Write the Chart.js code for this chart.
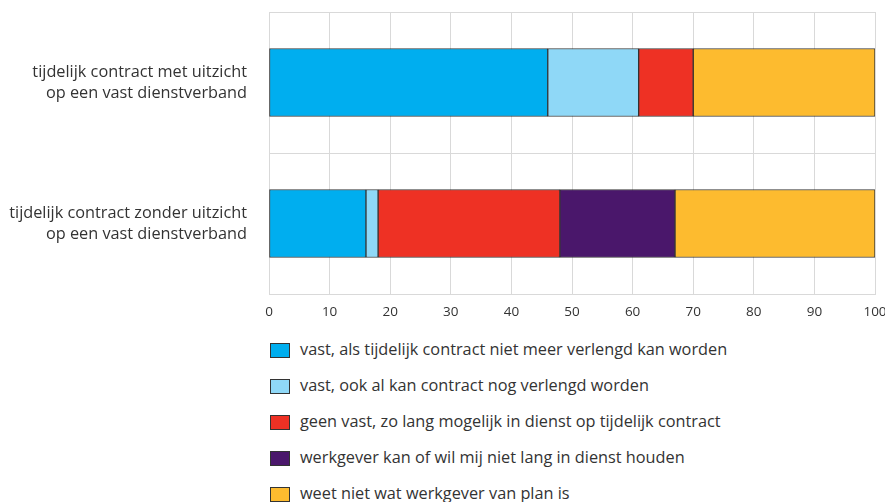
<!DOCTYPE html>
<html>
<head>
<meta charset="utf-8">
<script src="https://cdn.jsdelivr.net/npm/chart.js@4.4.0/dist/chart.umd.min.js"></script>
<style>
  html, body { margin:0; padding:0; background:#fff; }
  body { width:885px; height:502px; position:relative; overflow:hidden; font-family:"Open Sans", sans-serif; color:#333; }
  #wrap { position:absolute; left:0; top:0; width:885px; height:330px; }
  #legend { position:absolute; left:270px; top:339px; }
  .lg-item { height:36px; display:flex; align-items:flex-start; font-size:16.3px; line-height:21px; }
  .lg-box { width:18px; height:13px; border:1px solid #333; margin-top:4px; margin-right:10px; flex:none; }
</style>
</head>
<body>
<div id="wrap"><canvas id="chart"></canvas></div>
<div id="legend"></div>
<script>
// categories (y axis)
const categories = [
  ["tijdelijk contract met uitzicht", "op een vast dienstverband"],
  ["tijdelijk contract zonder uitzicht", "op een vast dienstverband"]
];

// series, one value per category (percent)
const seriesNames = [
  "vast, als tijdelijk contract niet meer verlengd kan worden",
  "vast, ook al kan contract nog verlengd worden",
  "geen vast, zo lang mogelijk in dienst op tijdelijk contract",
  "werkgever kan of wil mij niet lang in dienst houden",
  "weet niet wat werkgever van plan is"
];
const vastNietVerlengd = [46, 16];
const vastNogVerlengd  = [15, 2];
const geenVast         = [9, 30];
const werkgeverNiet    = [0, 19];
const weetNiet         = [30, 33];
const seriesColors = ["#00aeef", "#8fd8f7", "#ee3124", "#4a176b", "#fdbb2f"];

const xTicks = [0, 10, 20, 30, 40, 50, 60, 70, 80, 90, 100];

const seriesValues = [vastNietVerlengd, vastNogVerlengd, geenVast, werkgeverNiet, weetNiet];

const datasets = seriesNames.map((name, i) => ({
  label: name,
  data: seriesValues[i],
  backgroundColor: seriesColors[i],
  borderColor: "rgba(35,35,35,0.9)",
  borderWidth: 1,
  borderSkipped: false,
  barThickness: 68
}));

const gridColor = "#d9d9d9";

// no extra padding from the tick labels, plot box is set by afterFit
function noPad(s){ s.paddingTop = 0; s.paddingBottom = 0; s.paddingLeft = 0; s.paddingRight = 0; }

new Chart(document.getElementById("chart").getContext("2d"), {
  type: "bar",
  data: { labels: categories, datasets },
  options: {
    indexAxis: "y",
    animation: false,
    responsive: true,
    maintainAspectRatio: false,
    layout: { padding: { top: 12, right: 10, left: 0, bottom: 0 } },
    plugins: { legend: { display: false }, tooltip: { enabled: false } },
    scales: {
      x: {
        stacked: true,
        min: 0, max: 100,
        afterBuildTicks: s => { s.ticks = xTicks.map(v => ({ value: v })); },
        grid: { color: gridColor, lineWidth: 1, drawTicks: false },
        border: { color: gridColor },
        ticks: { color: "#333", font: { family: "Open Sans", size: 13.5 }, padding: 10 },
        afterFit: s => { s.height = 36; noPad(s); }
      },
      y: {
        stacked: true,
        offset: true,
        grid: { offset: true, color: gridColor, lineWidth: 1, drawTicks: false },
        border: { color: gridColor },
        ticks: { color: "#333", font: { family: "Open Sans", size: 16.3, lineHeight: 1.3 }, padding: 22 },
        afterFit: s => { s.width = 269; noPad(s); }
      }
    }
  }
});

// html legend, vertical list under the chart
const legendEl = document.getElementById("legend");
seriesNames.forEach((name, i) => {
  const row = document.createElement("div");
  row.className = "lg-item";
  row.innerHTML = `<span class="lg-box" style="background:${seriesColors[i]}"></span><span>${name}</span>`;
  legendEl.appendChild(row);
});
</script>
</body>
</html>
